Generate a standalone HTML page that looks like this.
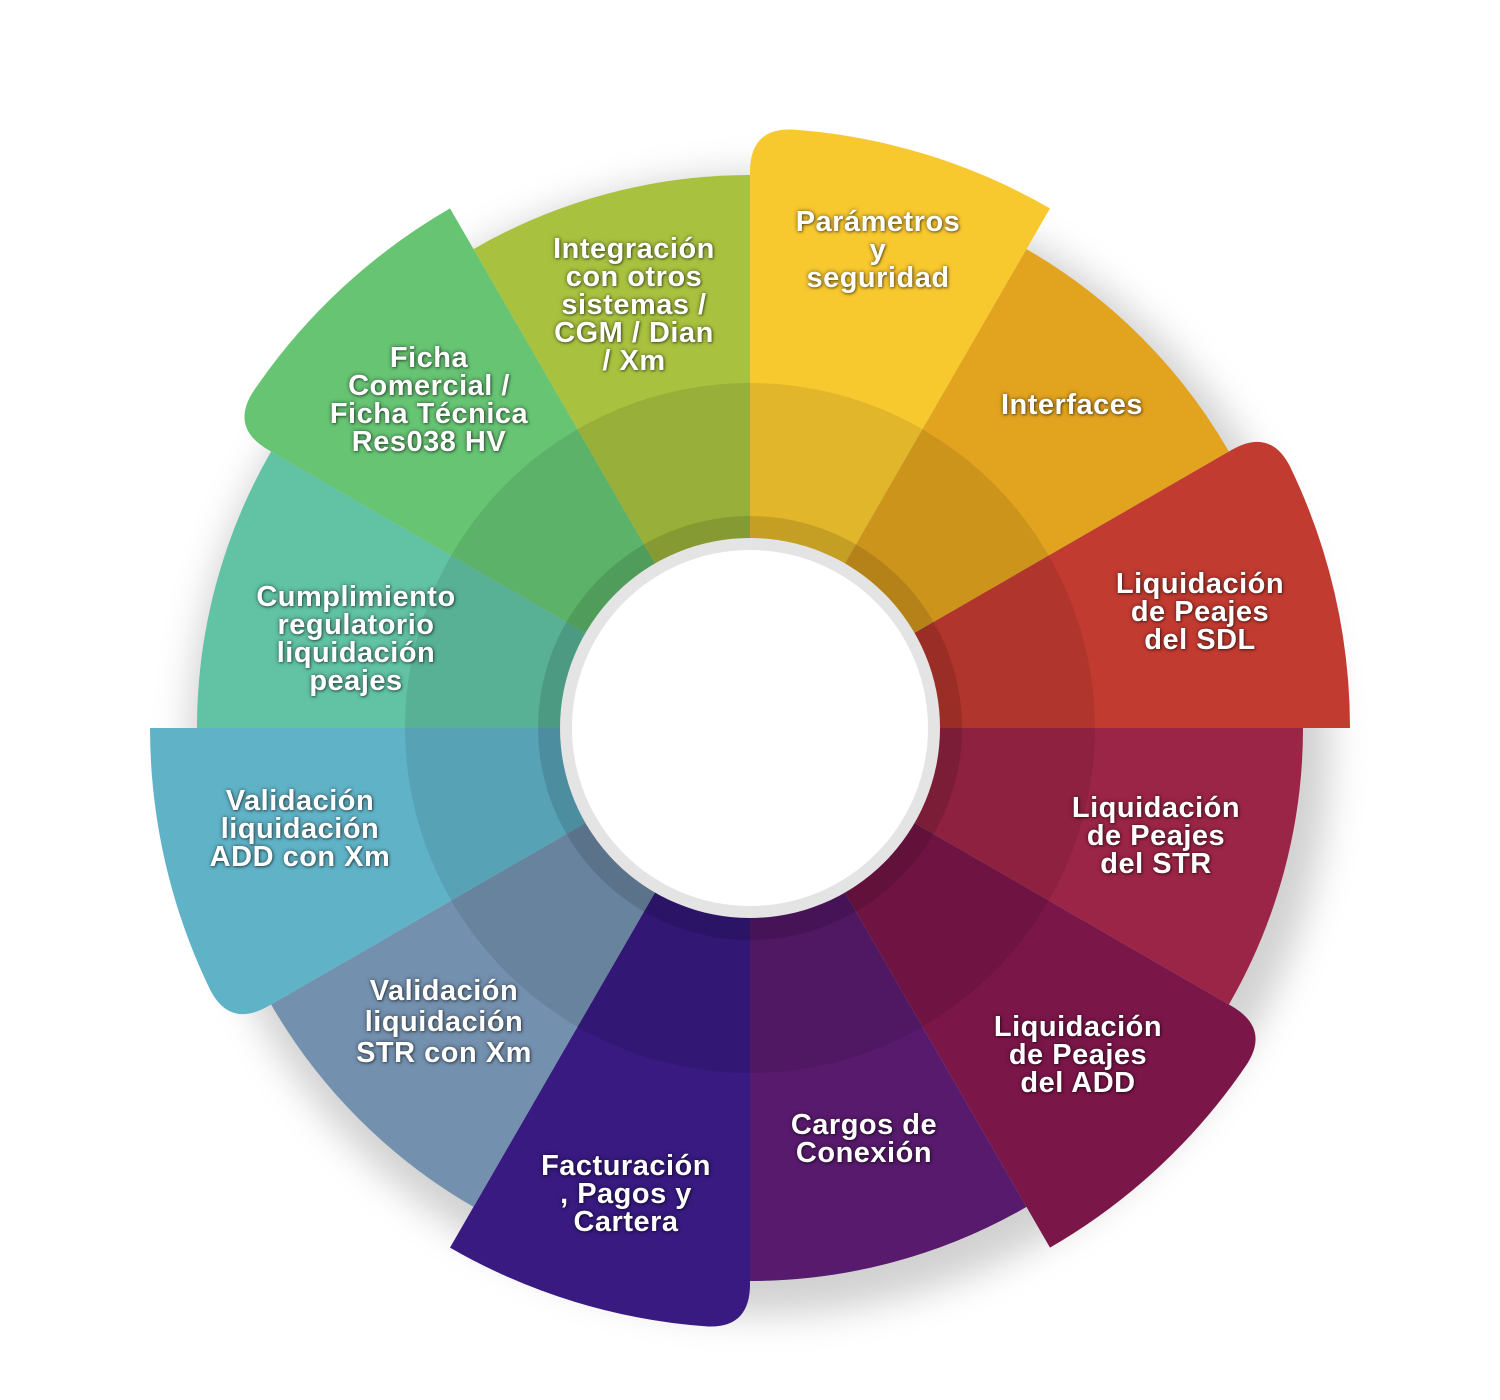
<!DOCTYPE html>
<html><head><meta charset="utf-8">
<style>
html,body{margin:0;padding:0;background:#fff;}
body{width:1500px;height:1400px;position:relative;overflow:hidden;}
svg{position:absolute;left:0;top:0;}
.t{position:absolute;color:#fff;font-family:"Liberation Sans",sans-serif;font-weight:bold;font-size:29px;line-height:28px;text-align:center;text-shadow:0 0 4px rgba(0,0,0,0.55),1px 1px 2px rgba(0,0,0,0.4);transform:translateX(-50%);white-space:nowrap;letter-spacing:0.5px;}
</style></head><body>
<svg width="1500" height="1400" viewBox="0 0 1500 1400">
<defs>
<filter id="sh" x="-20%" y="-20%" width="140%" height="140%"><feGaussianBlur stdDeviation="18"/></filter>
<path id="n" d="M750 728 L750 175 A553 553 0 0 1 1026.5 249.1 Z"/>
<path id="e" d="M750 728 L750 172 Q750 128 792 129.5 A600 600 0 0 1 1050 208.4 Z"/>
</defs>
<circle cx="760" cy="745" r="570" fill="rgba(0,0,0,0.18)" filter="url(#sh)"/>
<use href="#e" fill="#f8c82f" transform="rotate(0 750 728)"/>
<use href="#n" fill="#e2a31f" transform="rotate(30 750 728)"/>
<use href="#e" fill="#c23b31" transform="rotate(60 750 728)"/>
<use href="#n" fill="#9b2546" transform="rotate(90 750 728)"/>
<use href="#e" fill="#7b1649" transform="rotate(120 750 728)"/>
<use href="#n" fill="#581a6c" transform="rotate(150 750 728)"/>
<use href="#e" fill="#381a80" transform="rotate(180 750 728)"/>
<use href="#n" fill="#7390ae" transform="rotate(210 750 728)"/>
<use href="#e" fill="#60b3c7" transform="rotate(240 750 728)"/>
<use href="#n" fill="#61c2a4" transform="rotate(270 750 728)"/>
<use href="#e" fill="#66c473" transform="rotate(300 750 728)"/>
<use href="#n" fill="#a8c23f" transform="rotate(330 750 728)"/>
<circle cx="750" cy="728" r="345" fill="rgba(0,0,0,0.09)"/>
<circle cx="750" cy="728" r="212" fill="rgba(0,0,0,0.12)"/>
<circle cx="750" cy="728" r="190" fill="#e4e4e4"/>
<circle cx="750" cy="728" r="178" fill="#fff"/>
</svg>
<div class="t" style="left:878px;top:208px;">Parámetros<br>y<br>seguridad</div>
<div class="t" style="left:1072px;top:391px;">Interfaces</div>
<div class="t" style="left:1200px;top:570px;">Liquidación<br>de Peajes<br>del SDL</div>
<div class="t" style="left:1156px;top:794px;">Liquidación<br>de Peajes<br>del STR</div>
<div class="t" style="left:1078px;top:1013px;">Liquidación<br>de Peajes<br>del ADD</div>
<div class="t" style="left:864px;top:1111px;">Cargos de<br>Conexión</div>
<div class="t" style="left:626px;top:1152px;">Facturación<br>, Pagos y<br>Cartera</div>
<div class="t" style="left:444px;top:976px;line-height:31px;">Validación<br>liquidación<br>STR con Xm</div>
<div class="t" style="left:300px;top:787px;">Validación<br>liquidación<br>ADD con Xm</div>
<div class="t" style="left:356px;top:583px;">Cumplimiento<br>regulatorio<br>liquidación<br>peajes</div>
<div class="t" style="left:429px;top:344px;">Ficha<br>Comercial /<br>Ficha Técnica<br>Res038 HV</div>
<div class="t" style="left:634px;top:235px;">Integración<br>con otros<br>sistemas /<br>CGM / Dian<br>/ Xm</div>
</body></html>
